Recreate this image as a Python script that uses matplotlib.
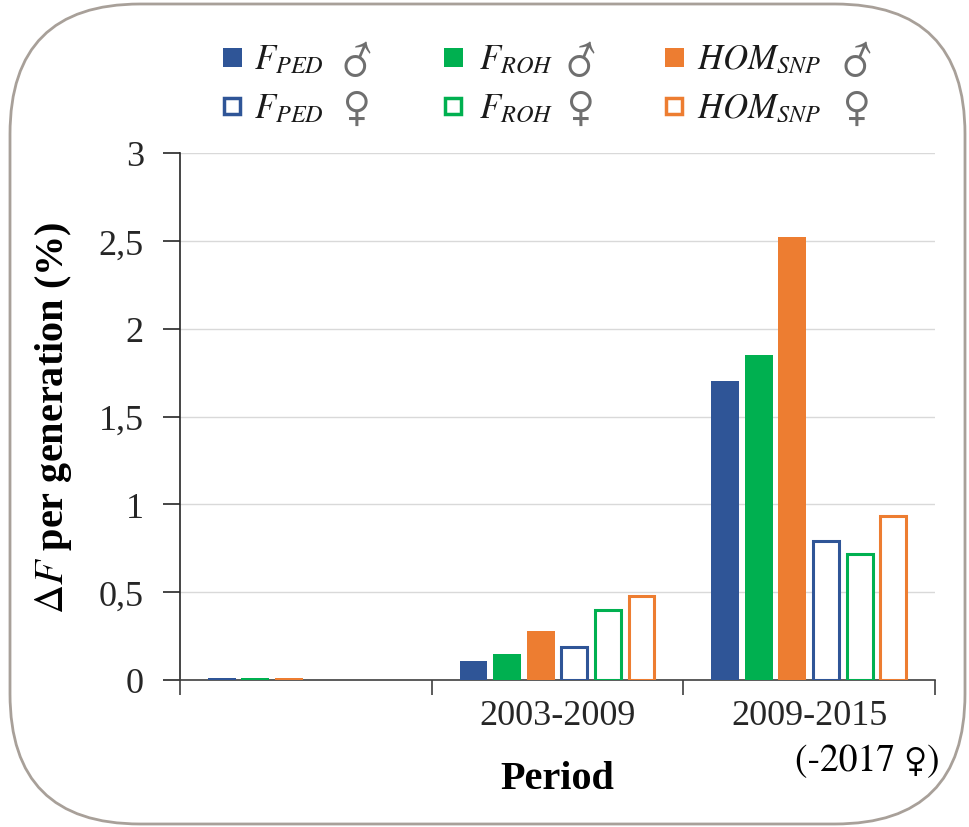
import matplotlib
matplotlib.use("Agg")
import matplotlib.pyplot as plt
import numpy as np
from matplotlib.patches import Rectangle, FancyBboxPatch
from matplotlib.ticker import FixedLocator, FuncFormatter

plt.rcParams['font.family'] = ['Liberation Serif', 'DejaVu Sans']
plt.rcParams['mathtext.fontset'] = 'stix'

periods = ["", "2003-2009", "2009-2015"]
fped_m = [0.01, 0.11, 1.70]
froh_m = [0.01, 0.15, 1.85]
hom_m = [0.01, 0.28, 2.52]
fped_f = [np.nan, 0.19, 0.79]
froh_f = [np.nan, 0.40, 0.715]
hom_f = [np.nan, 0.48, 0.935]

legend_names = [r"$F_{PED}$", r"$F_{ROH}$", r"$HOM_{SNP}$"]
sex_symbols = ["♂", "♀"]

blue = "#2f5597"
green = "#00b050"
orange = "#ed7d31"

W, H = 970, 828
fig = plt.figure(figsize=(W / 100, H / 100), dpi=100)
ax = fig.add_axes([180/W, (H-681)/H, (935-180)/W, (681-154)/H])

x = np.arange(len(periods))
w = 0.111
step = 0.1335
offsets = (np.arange(6) - 2.5) * step
series = [(fped_m, blue, True), (froh_m, green, True), (hom_m, orange, True),
          (fped_f, blue, False), (froh_f, green, False), (hom_f, orange, False)]
for (vals, col, filled), off in zip(series, offsets):
    v = np.array(vals, dtype=float)
    if filled:
        ax.bar(x + off, v, width=w, color=col, zorder=3)
    else:
        ax.bar(x + off, v, width=w - 0.008, facecolor="white", edgecolor=col,
               linewidth=2.2, zorder=3)

ax.set_xlim(-0.5, 2.5)
ax.set_ylim(0, 3)
ax.set_yticks([0, 0.5, 1, 1.5, 2, 2.5, 3])
ax.yaxis.set_major_formatter(FuncFormatter(lambda v, p: (f"{v:g}").replace(".", ",")))
ax.grid(axis="y", color="#d9d9d9", linewidth=1, zorder=0)
ax.set_axisbelow(True)

ax.xaxis.set_major_locator(FixedLocator([-0.5, 0.5, 1.5, 2.5]))
ax.xaxis.set_major_formatter(FuncFormatter(lambda v, p: ""))
ax.xaxis.set_minor_locator(FixedLocator(x))
ax.set_xticklabels(periods, minor=True)
ax.tick_params(axis="x", which="major", length=11, width=1.2, color="#404040", direction="out")
ax.tick_params(axis="x", which="minor", length=0, pad=14, labelsize=26, labelcolor="#262626")
ax.tick_params(axis="y", length=12, width=1.2, color="#262626", labelsize=26, pad=14,
               labelcolor="#262626")

for s in ["top", "right"]:
    ax.spines[s].set_visible(False)
ax.spines["left"].set_color("#262626")
ax.spines["left"].set_linewidth(1.2)
ax.spines["bottom"].set_color("#404040")
ax.spines["bottom"].set_linewidth(1.2)


def fx(px):
    return px / W


def fy(py):
    return 1 - py / H


fig.text(fx(940), fy(762), "(-2017 ♀)", ha="right", va="center", fontsize=27,
         family=["STIXGeneral", "DejaVu Sans"], color="black")

ax.set_xlabel("Period", fontsize=29, fontweight="bold", labelpad=20)
ax.set_ylabel(r"$\Delta F$ per generation (%)", fontsize=29, fontweight="bold", labelpad=18)

# manual legend
cols_x = [223, 444, 665]
text_x = [254, 479, 697]
sym_x = [342, 566, 842]
rows_y = [58, 107]
base_y = [69, 118]
colors = [blue, green, orange]
for r in range(2):
    for c in range(3):
        sq = 19
        if r == 0:
            rect = Rectangle((fx(cols_x[c]), fy(rows_y[r] + sq / 2)), sq / W, sq / H,
                             transform=fig.transFigure, facecolor=colors[c],
                             edgecolor=colors[c], linewidth=0)
        else:
            rect = Rectangle((fx(cols_x[c] + 1.5), fy(rows_y[r] + sq / 2 - 1.5)), (sq - 3) / W,
                             (sq - 3) / H, transform=fig.transFigure, facecolor="white",
                             edgecolor=colors[c], linewidth=2.5)
        fig.patches.append(rect)
        fig.text(fx(text_x[c]), fy(base_y[r]), legend_names[c], ha="left", va="baseline",
                 fontsize=25, color="#1a1a1a")
        fig.text(fx(sym_x[c]), fy(base_y[r] + 2), sex_symbols[r], ha="left", va="baseline",
                 fontsize=33, family=["STIXGeneral", "DejaVu Sans"], color="#6f6f6f")

border = FancyBboxPatch((0.1, 0.03), 9.55, 8.2, boxstyle="round,pad=0,rounding_size=1.3",
                        transform=fig.dpi_scale_trans, facecolor="none",
                        edgecolor="#a8a099", linewidth=2, clip_on=False)
fig.patches.append(border)

fig.savefig("out.png", dpi=100)
